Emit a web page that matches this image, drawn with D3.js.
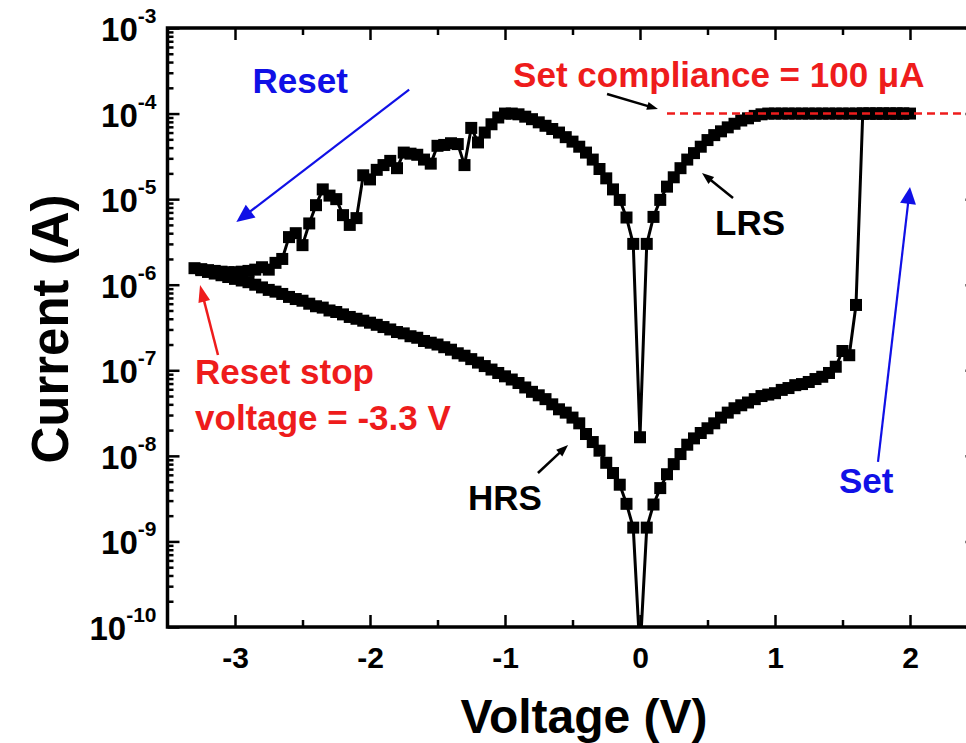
<!DOCTYPE html>
<html>
<head>
<meta charset="utf-8">
<script src="https://cdn.jsdelivr.net/npm/d3@7"></script>
<style>
  html, body { margin: 0; padding: 0; background: #fff; }
  svg { display: block; font-family: "Liberation Sans", Arial, sans-serif; font-weight: bold; }
</style>
</head>
<body>
<div id="chart"></div>
<script>
//////////////////////////////////////////////////////////////////////
// Data (voltage in V, current in A), in sweep order
//////////////////////////////////////////////////////////////////////
// Set sweep, HRS from 0 V up to the switching point
const setV = [0, 0.05, 0.1, 0.15, 0.2, 0.25, 0.3, 0.35, 0.4, 0.45, 0.5, 0.55, 0.6, 0.65, 0.7, 0.75,
    0.8, 0.85, 0.9, 0.95, 1.0, 1.05, 1.1, 1.15, 1.2, 1.25, 1.3, 1.35, 1.4, 1.45, 1.5, 1.55, 1.6];
const setI = [5e-11, 1.45e-9, 2.7e-9, 4.2e-9, 6.1e-9, 8.0e-9, 1.05e-8, 1.35e-8, 1.6e-8, 1.85e-8, 2.1e-8,
    2.4e-8, 2.8e-8, 3.2e-8, 3.6e-8, 3.9e-8, 4.2e-8, 4.6e-8, 5.0e-8, 5.2e-8, 5.4e-8, 5.9e-8, 6.2e-8,
    6.7e-8, 6.9e-8, 7.3e-8, 7.9e-8, 8.4e-8, 9.3e-8, 1.1e-7, 1.68e-7, 1.5e-7, 5.8e-7];

// Current held at compliance, up to 2 V and back
const complianceV = [1.65, 1.7, 1.75, 1.8, 1.85, 1.9, 1.95, 2.0, 1.95, 1.9, 1.85, 1.8, 1.75, 1.7, 1.65,
    1.6, 1.55, 1.5, 1.45, 1.4, 1.35, 1.3, 1.25, 1.2, 1.15, 1.1, 1.05, 1.0, 0.95];
const complianceI = [1e-4, 1e-4, 1e-4, 1e-4, 1e-4, 1e-4, 1e-4, 1e-4, 1e-4, 1e-4, 1e-4, 1e-4, 1e-4, 1e-4,
    1e-4, 1e-4, 1e-4, 1e-4, 1e-4, 1e-4, 1e-4, 1e-4, 1e-4, 1e-4, 1e-4, 1e-4, 1e-4, 1e-4, 1e-4];

// LRS back down to 0 V
const lrsV = [0.9, 0.85, 0.8, 0.75, 0.7, 0.65, 0.6, 0.55, 0.5, 0.45, 0.4, 0.35, 0.3, 0.25, 0.2, 0.15,
    0.1, 0.05, 0];
const lrsI = [9.8e-5, 9.4e-5, 8.8e-5, 8.3e-5, 7.6e-5, 6.9e-5, 6.2e-5, 5.6e-5, 4.9e-5, 4.1e-5, 3.45e-5,
    2.9e-5, 2.3e-5, 1.8e-5, 1.4e-5, 9.8e-6, 6.2e-6, 3.0e-6, 1.65e-8];

// Reset sweep, 0 V down to -3.3 V
const resetV = [-0.05, -0.1, -0.15, -0.2, -0.25, -0.3, -0.35, -0.4, -0.45, -0.5, -0.55, -0.6, -0.65,
    -0.7, -0.75, -0.8, -0.85, -0.9, -0.95, -1.0, -1.05, -1.1, -1.15, -1.2, -1.25, -1.3, -1.35, -1.4,
    -1.45, -1.5, -1.55, -1.6, -1.65, -1.7, -1.75, -1.8, -1.85, -1.9, -1.95, -2.0, -2.05, -2.1, -2.15,
    -2.2, -2.25, -2.3, -2.35, -2.4, -2.45, -2.5, -2.55, -2.6, -2.65, -2.7, -2.75, -2.8, -2.85, -2.9,
    -2.95, -3.0, -3.05, -3.1, -3.15, -3.2, -3.25, -3.3];
const resetI = [3.0e-6, 6.1e-6, 9.8e-6, 1.3e-5, 1.75e-5, 2.25e-5, 2.9e-5, 3.5e-5, 4.1e-5, 4.7e-5,
    5.3e-5, 6.0e-5, 6.6e-5, 7.2e-5, 7.9e-5, 8.6e-5, 9.2e-5, 9.8e-5, 1.0e-4, 1.0e-4, 9.0e-5, 7.5e-5,
    6.0e-5, 4.6e-5, 6.8e-5, 2.5e-5, 4.4e-5, 4.5e-5, 4.3e-5, 4.2e-5, 2.6e-5, 2.9e-5, 3.3e-5, 3.4e-5,
    3.5e-5, 2.3e-5, 2.8e-5, 2.5e-5, 2.2e-5, 1.7e-5, 1.9e-5, 6.0e-6, 5.0e-6, 6.5e-6, 1.0e-5, 1.1e-5,
    1.3e-5, 8.5e-6, 5.2e-6, 2.9e-6, 4.0e-6, 3.6e-6, 2.0e-6, 1.8e-6, 1.5e-6, 1.6e-6, 1.5e-6, 1.45e-6,
    1.42e-6, 1.4e-6, 1.4e-6, 1.42e-6, 1.45e-6, 1.48e-6, 1.52e-6, 1.56e-6];

// HRS return, -3.3 V back to 0 V
const hrsV = [-3.25, -3.2, -3.15, -3.1, -3.05, -3.0, -2.95, -2.9, -2.85, -2.8, -2.75, -2.7, -2.65,
    -2.6, -2.55, -2.5, -2.45, -2.4, -2.35, -2.3, -2.25, -2.2, -2.15, -2.1, -2.05, -2.0, -1.95, -1.9,
    -1.85, -1.8, -1.75, -1.7, -1.65, -1.6, -1.55, -1.5, -1.45, -1.4, -1.35, -1.3, -1.25, -1.2, -1.15,
    -1.1, -1.05, -1.0, -0.95, -0.9, -0.85, -0.8, -0.75, -0.7, -0.65, -0.6, -0.55, -0.5, -0.45, -0.4,
    -0.35, -0.3, -0.25, -0.2, -0.15, -0.1, -0.05, 0];
const hrsI = [1.48e-6, 1.41e-6, 1.35e-6, 1.29e-6, 1.23e-6, 1.17e-6, 1.12e-6, 1.07e-6, 1.0e-6, 9.3e-7,
    8.7e-7, 8.3e-7, 7.8e-7, 7.2e-7, 6.8e-7, 6.5e-7, 6.0e-7, 5.6e-7, 5.4e-7, 5.0e-7, 4.8e-7, 4.5e-7,
    4.2e-7, 4.0e-7, 3.8e-7, 3.6e-7, 3.4e-7, 3.2e-7, 3.0e-7, 2.8e-7, 2.7e-7, 2.5e-7, 2.4e-7, 2.2e-7,
    2.1e-7, 2.0e-7, 1.86e-7, 1.74e-7, 1.58e-7, 1.48e-7, 1.35e-7, 1.23e-7, 1.12e-7, 1.02e-7, 9.3e-8,
    8.5e-8, 7.8e-8, 7.1e-8, 6.3e-8, 5.6e-8, 5.1e-8, 4.6e-8, 4.0e-8, 3.5e-8, 3.2e-8, 2.8e-8, 2.4e-8,
    1.8e-8, 1.45e-8, 1.15e-8, 8.3e-9, 6.3e-9, 4.6e-9, 2.75e-9, 1.45e-9, 5e-11];

// Axis ticks
const xMajorTicks = [-3, -2, -1, 0, 1, 2];
const xMinorTicks = [-2.5, -1.5, -0.5, 0.5, 1.5];
const yMajorExp = [-10, -9, -8, -7, -6, -5, -4, -3];

const complianceLevel = 1e-4;

//////////////////////////////////////////////////////////////////////
// Layout and scales
//////////////////////////////////////////////////////////////////////
const width = 966, height = 743;
const plot = {left: 167.5, right: 977.5, top: 28, bottom: 627};

const x = d3.scaleLinear().domain([-3.5, 2.5]).range([plot.left, plot.right]);
const y = d3.scaleLog().domain([1e-10, 1e-3]).range([plot.bottom, plot.top]);

const svg = d3.select('#chart')
    .append('svg')
    .attr('width', width)
    .attr('height', height);

svg.append('defs').append('clipPath')
    .attr('id', 'plot-clip')
    .append('rect')
    .attr('x', plot.left)
    .attr('y', plot.top)
    .attr('width', plot.right - plot.left)
    .attr('height', plot.bottom - plot.top);

//////////////////////////////////////////////////////////////////////
// Axes (ticks point inward on all four sides)
//////////////////////////////////////////////////////////////////////
function _styleAxis(g) {
    g.select('.domain').remove();
    g.selectAll('.tick line').attr('stroke', '#000').attr('stroke-width', 2.5);
}

// bottom
svg.append('g')
    .attr('transform', `translate(0,${plot.bottom})`)
    .call(d3.axisBottom(x).tickValues(xMajorTicks).tickSize(-12).tickPadding(20)
        .tickFormat(d => d === 0 ? '0' : String(d).replace('\u2212', '-')))
    .call(_styleAxis)
    .call(g => g.selectAll('text')
        .attr('fill', '#000')
        .style('font-size', '30px')
        .style('font-family', '"Liberation Sans", Arial, sans-serif')
        .style('font-weight', 'bold'));
svg.append('g')
    .attr('transform', `translate(0,${plot.bottom})`)
    .call(d3.axisBottom(x).tickValues(xMinorTicks).tickSize(-7).tickFormat(''))
    .call(_styleAxis);

// top
svg.append('g')
    .attr('transform', `translate(0,${plot.top})`)
    .call(d3.axisTop(x).tickValues(xMajorTicks).tickSize(-12).tickFormat(''))
    .call(_styleAxis);
svg.append('g')
    .attr('transform', `translate(0,${plot.top})`)
    .call(d3.axisTop(x).tickValues(xMinorTicks).tickSize(-7).tickFormat(''))
    .call(_styleAxis);

// left / right
const yMajor = yMajorExp.map(e => Math.pow(10, e));
const yMinor = y.ticks().filter(v => !yMajor.some(m => Math.abs(m - v) / m < 1e-6));

[[d3.axisLeft, plot.left], [d3.axisRight, plot.right]].forEach(([axisFn, pos]) => {
    svg.append('g')
        .attr('transform', `translate(${pos},0)`)
        .call(axisFn(y).tickValues(yMajor).tickSize(-12).tickFormat(''))
        .call(_styleAxis);
    svg.append('g')
        .attr('transform', `translate(${pos},0)`)
        .call(axisFn(y).tickValues(yMinor).tickSize(-6).tickFormat(''))
        .call(_styleAxis);
});

// frame
svg.append('rect')
    .attr('x', plot.left)
    .attr('y', plot.top)
    .attr('width', plot.right - plot.left)
    .attr('height', plot.bottom - plot.top)
    .attr('fill', 'none')
    .attr('stroke', '#000')
    .attr('stroke-width', 3.5);

// y tick labels: 10 with superscript exponent
const yLabels = svg.append('g')
    .selectAll('text')
    .data(yMajorExp)
    .enter()
    .append('text')
    .attr('x', plot.left - 11)
    .attr('y', d => y(Math.pow(10, d)) + 13)
    .attr('text-anchor', 'end')
    .attr('fill', '#000');
yLabels.append('tspan').style('font-size', '33px').text('10');
yLabels.append('tspan').attr('dy', -18).style('font-size', '21px').text(d => '-' + Math.abs(d));

// axis titles
svg.append('text')
    .attr('x', 584)
    .attr('y', 733)
    .attr('text-anchor', 'middle')
    .style('font-size', '48px')
    .text('Voltage (V)');

svg.append('text')
    .attr('transform', 'translate(68,329) rotate(-90)')
    .attr('text-anchor', 'middle')
    .style('font-size', '51px')
    .text('Current (A)');

//////////////////////////////////////////////////////////////////////
// I-V loop
//////////////////////////////////////////////////////////////////////
const loopV = [].concat(setV, complianceV, lrsV, resetV, hrsV);
const loopI = [].concat(setI, complianceI, lrsI, resetI, hrsI);
const loop = loopV.map((v, i) => ({v, i: loopI[i]}));

const dataG = svg.append('g').attr('clip-path', 'url(#plot-clip)');

dataG.append('path')
    .datum(loop)
    .attr('fill', 'none')
    .attr('stroke', '#000')
    .attr('stroke-width', 3)
    .attr('stroke-linejoin', 'round')
    .attr('d', d3.line().x(d => x(d.v)).y(d => y(d.i)));

const markerSize = 12;
dataG.selectAll('.pt')
    .data(loop)
    .enter()
    .append('rect')
    .attr('class', 'pt')
    .attr('x', d => x(d.v) - markerSize / 2)
    .attr('y', d => y(d.i) - markerSize / 2)
    .attr('width', markerSize)
    .attr('height', markerSize)
    .attr('fill', '#000');

// compliance level
dataG.append('line')
    .attr('x1', x(0.2))
    .attr('x2', x(2.5))
    .attr('y1', y(complianceLevel))
    .attr('y2', y(complianceLevel))
    .attr('stroke', '#ee1c1c')
    .attr('stroke-width', 2.5)
    .attr('stroke-dasharray', '8,5');

//////////////////////////////////////////////////////////////////////
// Annotations
//////////////////////////////////////////////////////////////////////
const RED = '#ee1c1c';
const BLUE = '#1010e6';

function _arrow(from, to, color, lw, headLen, headW) {
    const x1 = x(from[0]), y1 = y(from[1]);
    const x2 = x(to[0]), y2 = y(to[1]);
    const a = Math.atan2(y2 - y1, x2 - x1);
    const bx = x2 - headLen * Math.cos(a), by = y2 - headLen * Math.sin(a);
    const px = -Math.sin(a) * headW / 2, py = Math.cos(a) * headW / 2;
    svg.append('line')
        .attr('x1', x1).attr('y1', y1)
        .attr('x2', bx + (headLen * 0.3) * Math.cos(a)).attr('y2', by + (headLen * 0.3) * Math.sin(a))
        .attr('stroke', color)
        .attr('stroke-width', lw);
    svg.append('path')
        .attr('d', `M${x2},${y2}L${bx + px},${by + py}L${bx - px},${by - py}Z`)
        .attr('fill', color);
}

function _label(pos, txt, color) {
    return svg.append('text')
        .attr('x', x(pos[0]))
        .attr('y', y(pos[1]))
        .attr('fill', color)
        .style('font-size', '35px')
        .text(txt);
}

_label([-2.87, 1.75e-4], 'Reset', BLUE);
_arrow([-1.71, 1.9e-4], [-2.99, 5.4e-6], BLUE, 2.2, 18, 16);

_label([-0.94, 2.05e-4], 'Set compliance = 100 \u03bcA', RED);
_arrow([-0.244, 1.69e-4], [0.133, 1.13e-4], '#000', 2.5, 11, 8);

_label([0.556, 3.81e-6], 'LRS', '#000');
_arrow([0.689, 1.03e-5], [0.459, 2.02e-5], '#000', 2.5, 12, 9);

_label([1.474, 3.68e-9], 'Set', BLUE);
_arrow([1.763, 8.48e-9], [2.0, 1.39e-5], BLUE, 2.2, 17, 16);

_label([-1.274, 2.33e-9], 'HRS', '#000');
_arrow([-0.756, 6.3e-9], [-0.533, 1.34e-8], '#000', 2.5, 12, 9);

_label([-3.296, 6.9e-8], 'Reset stop', RED);
_label([-3.296, 2.0e-8], 'voltage = -3.3 V', RED);
_arrow([-3.126, 1.51e-7], [-3.259, 9.9e-7], RED, 2.5, 17, 12);
</script>
</body>
</html>
